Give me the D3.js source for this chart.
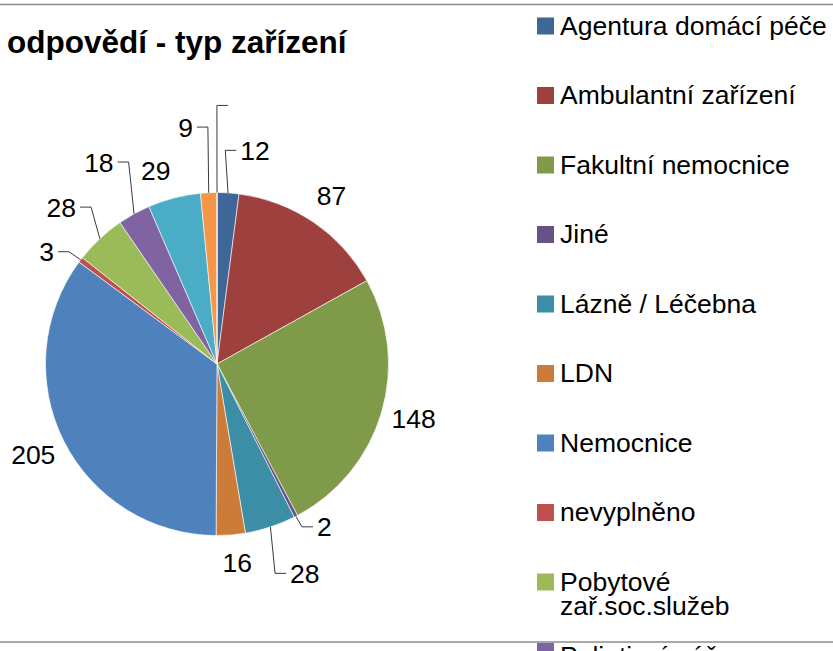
<!DOCTYPE html>
<html>
<head>
<meta charset="utf-8">
<script src="https://cdn.jsdelivr.net/npm/d3@7"></script>
<style>
  body { margin: 0; background: #fff; }
  text { font-family: "Liberation Sans", Arial, sans-serif; }
</style>
</head>
<body>
<div id="viz-container"></div>
<script>

// data (legend order = slice order, clockwise from 12 o'clock)
let categories = ["Agentura domácí péče", "Ambulantní zařízení", "Fakultní nemocnice", "Jiné",
                  "Lázně / Léčebna", "LDN", "Nemocnice", "nevyplněno", "Pobytové zař.soc.služeb",
                  "Paliativní péče", "Stacionář", "Ústav", "(prázdné)"];
let values = [12, 87, 148, 2, 28, 16, 205, 3, 28, 18, 29, 9, null];
let colors = ["#3E6797", "#9E413E", "#7F9A48", "#6A5185", "#3B8EA5", "#CD7B38", "#4F81BD",
              "#C0504D", "#9BBB59", "#8064A2", "#4BACC6", "#F79646", "#2C4D75"];

// label placement tweaks (degrees, pixels) - excel moved the small ones out
let labelNudge = [
    {da: 6.4,  dr: 13,  leader: true},
    {da: 0,    dr: 0,   leader: false},
    {da: -1,   dr: 0,   leader: false},
    {da: -6.0, dr: -9,  leader: true},
    {da: -4.6, dr: 23,  leader: true},
    {da: -1.2, dr: -5,  leader: false},
    {da: 0.3,  dr: 1,   leader: false},
    {da: -4.0, dr: 0,   leader: true},
    {da: -1.7, dr: 17,  leader: true},
    {da: -1.4, dr: 30,  leader: true},
    {da: -3.1, dr: -1,  leader: false},
    {da: -4.8, dr: 35,  leader: true},
    {da: 3.3,  dr: 55,  leader: true}
];

let W = 833, H = 651;
let cx = 217, cy = 364, R = 171.5, labelR = 204;

let viz = d3.select("#viz-container")
            .append("svg")
                .attr("width", W)
                .attr("height", H)
                .style("display", "block");

// frame lines
viz.append("line").attr("x1", 0).attr("x2", W).attr("y1", 4.5).attr("y2", 4.5)
    .attr("stroke", "#8c8c8c").attr("stroke-width", 1.5);

// title
viz.append("text")
    .text("odpovědí - typ zařízení")
    .attr("x", 7)
    .attr("y", 53)
    .attr("font-size", "31.5px")
    .attr("font-weight", "bold")
    .attr("fill", "#000");

let data = categories.map(function(c, i){
    return {name: c, value: values[i], color: colors[i], nudge: labelNudge[i], idx: i};
});

let pie = d3.pie().sort(null).value(function(d){ return d.value == null ? 0 : d.value; });
let arcs = pie(data);
let arc = d3.arc().innerRadius(0).outerRadius(R);

let pieG = viz.append("g").attr("transform", "translate(" + cx + "," + cy + ")");

pieG.selectAll(".slice").data(arcs).enter().append("path")
    .attr("class", "slice")
    .attr("d", arc)
    .attr("fill", function(d){ return d.data.color; })
    .attr("stroke", "#fff")
    .attr("stroke-width", 0.6);

// data labels
let deg = Math.PI / 180;
arcs.forEach(function(d){
    let mid = (d.startAngle + d.endAngle) / 2;
    let a = mid + d.data.nudge.da * deg;
    let r = labelR + d.data.nudge.dr;
    let lx = r * Math.sin(a), ly = -r * Math.cos(a);
    let txt = d.data.value == null ? "" : String(d.data.value);

    let t = pieG.append("text")
        .text(txt)
        .attr("x", lx)
        .attr("y", ly)
        .attr("dy", "0.36em")
        .attr("text-anchor", "middle")
        .attr("font-size", "26.5px")
        .attr("fill", "#000");

    if (d.data.nudge.leader) {
        let w = txt ? t.node().getComputedTextLength() : 0;
        let px = R * Math.sin(mid), py = -R * Math.cos(mid);
        let sx, ex;
        if (Math.sin(a) >= 0) {           // label right of pie -> line comes from left
            sx = lx - w / 2 - 4;
            ex = sx - 11;
        } else {
            sx = lx + w / 2 + 4;
            ex = sx + 11;
        }
        pieG.append("path")
            .attr("d", "M" + sx + "," + ly + "H" + ex + "L" + px + "," + py)
            .attr("fill", "none")
            .attr("stroke", "#3a3a3a")
            .attr("stroke-width", 1);
    }
});

// legend
let legendY = d3.scaleLinear().domain([0, 1]).range([17.5, 87]);
let legendX = 537, sq = 17, textX = 560, maxW = W - textX;

let legend = viz.selectAll(".legendItem").data(data).enter().append("g")
    .attr("class", "legendItem")
    .attr("transform", function(d, i){ return "translate(0," + legendY(i) + ")"; });

legend.append("rect")
    .attr("x", legendX)
    .attr("y", 0)
    .attr("width", sq)
    .attr("height", sq)
    .attr("fill", function(d){ return d.color; });

// text after a wrapped entry sits a bit lower (excel spacing)
let extraDrop = 0;
legend.each(function(d){
    let g = d3.select(this);
    let t = g.append("text")
        .attr("x", textX)
        .attr("y", 17 + extraDrop)
        .attr("font-size", "26.5px")
        .attr("fill", "#000")
        .text(d.name);
    if (t.node().getComputedTextLength() > maxW) {
        let words = d.name.split(" ");
        t.text(null);
        words.forEach(function(wd, k){
            t.append("tspan").attr("x", textX).attr("dy", k == 0 ? 0 : 24).text(wd);
        });
        extraDrop += 5 * (words.length - 1);
    }
});

// bottom frame line (legend runs past it)
viz.append("line").attr("x1", 0).attr("x2", W).attr("y1", 642).attr("y2", 642)
    .attr("stroke", "#8c8c8c").attr("stroke-width", 1.5);

</script>
</body>
</html>
